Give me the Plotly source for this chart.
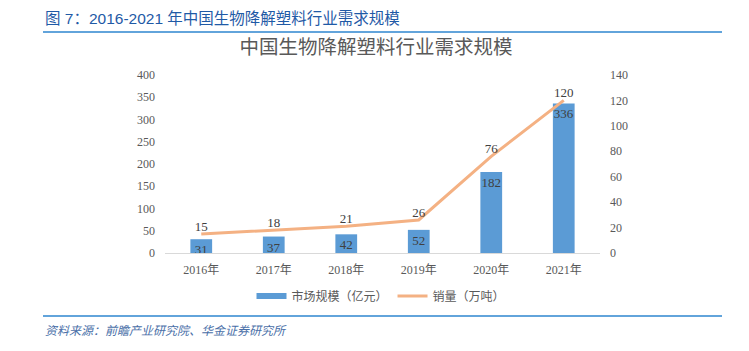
import plotly.graph_objects as go

years = ["2016年", "2017年", "2018年", "2019年", "2020年", "2021年"]
market_size = [31, 37, 42, 52, 182, 336]   # 市场规模（亿元）
sales = [15, 18, 21, 26, 76, 120]          # 销量（万吨）
left_ticks = [0, 50, 100, 150, 200, 250, 300, 350, 400]
right_ticks = [0, 20, 40, 60, 80, 100, 120, 140]

SERIF = "Liberation Serif, Times New Roman, Noto Sans CJK SC, serif"
CJK = "Noto Sans CJK SC, sans-serif"
GRAY = "#595959"
BLUE = "#5B9BD5"
ORANGE = "#F4B183"

fig = go.Figure()
fig.add_trace(go.Bar(
    x=years, y=market_size, name="市场规模（亿元）", showlegend=False,
    marker=dict(color=BLUE, line=dict(width=0)),
    width=0.3,
    text=[str(v) for v in market_size], textposition="inside", textangle=0,
    insidetextanchor="end", constraintext="none",
    textfont=dict(family=SERIF, size=13, color="#404040"),
    cliponaxis=False,
))
# legend entry for the bars drawn as a wide rectangle (as in the reference)
fig.add_trace(go.Scatter(
    x=[None], y=[None], name="市场规模（亿元）", mode="lines",
    line=dict(color=BLUE, width=6),
))
fig.add_trace(go.Scatter(
    x=years, y=sales, name="销量（万吨）", yaxis="y2",
    mode="lines+text",
    line=dict(color=ORANGE, width=3),
    text=[str(v) for v in sales], textposition="top center",
    textfont=dict(family=SERIF, size=13, color="#404040"),
    cliponaxis=False,
))

L, R, T, B = 165, 600, 75, 253
W, H = R - L, B - T
def px(x):
    return (x - L) / W
def py(y):
    return (B - y) / H

fig.update_layout(
    width=749, height=351,
    margin=dict(l=L, r=749 - R, t=T, b=351 - B),
    paper_bgcolor="white", plot_bgcolor="white",
    title=dict(text="中国生物降解塑料行业需求规模", x=376 / 749, xanchor="center",
               y=1 - 47 / 351, yanchor="middle", yref="container",
               font=dict(family=CJK, size=19.5, color=GRAY)),
    xaxis=dict(showgrid=False, showline=True, linecolor="#D9D9D9", linewidth=1,
               ticks="", ticklabelstandoff=6,
               tickfont=dict(family=SERIF, size=12, color=GRAY)),
    yaxis=dict(range=[0, 400], tickvals=left_ticks, showgrid=False, zeroline=False,
               showline=False, ticks="", ticklabelstandoff=9,
               tickfont=dict(family=SERIF, size=12, color=GRAY)),
    yaxis2=dict(range=[0, 140], tickvals=right_ticks, overlaying="y", side="right",
                showgrid=False, zeroline=False, showline=False, ticks="",
                ticklabelstandoff=9,
                tickfont=dict(family=SERIF, size=12, color=GRAY)),
    legend=dict(orientation="h", x=px(381), xanchor="center", y=py(296), yanchor="middle",
                font=dict(family=CJK, size=12, color=GRAY), itemwidth=30,
                traceorder="normal"),
    showlegend=True,
    bargap=0.7,
)

# header and footer rules
for yy in (32, 316):
    fig.add_shape(type="line", xref="paper", yref="paper",
                  x0=px(43), x1=px(722), y0=py(yy), y1=py(yy),
                  line=dict(color="#2E86CF", width=1.5))

fig.add_annotation(xref="paper", yref="paper", x=px(43), y=py(19),
                   xanchor="left", yanchor="middle", showarrow=False,
                   text="图 7：2016-2021 年中国生物降解塑料行业需求规模",
                   font=dict(family="Liberation Sans, Noto Sans CJK SC, sans-serif",
                             size=15.5, color="#1F5AA6"))
fig.add_annotation(xref="paper", yref="paper", x=px(43), y=py(329),
                   xanchor="left", yanchor="middle", showarrow=False,
                   text="<i>资料来源：前瞻产业研究院、华金证券研究所</i>",
                   font=dict(family=CJK, size=12, color="#4A6FA8"))

fig.write_html("out.html")
